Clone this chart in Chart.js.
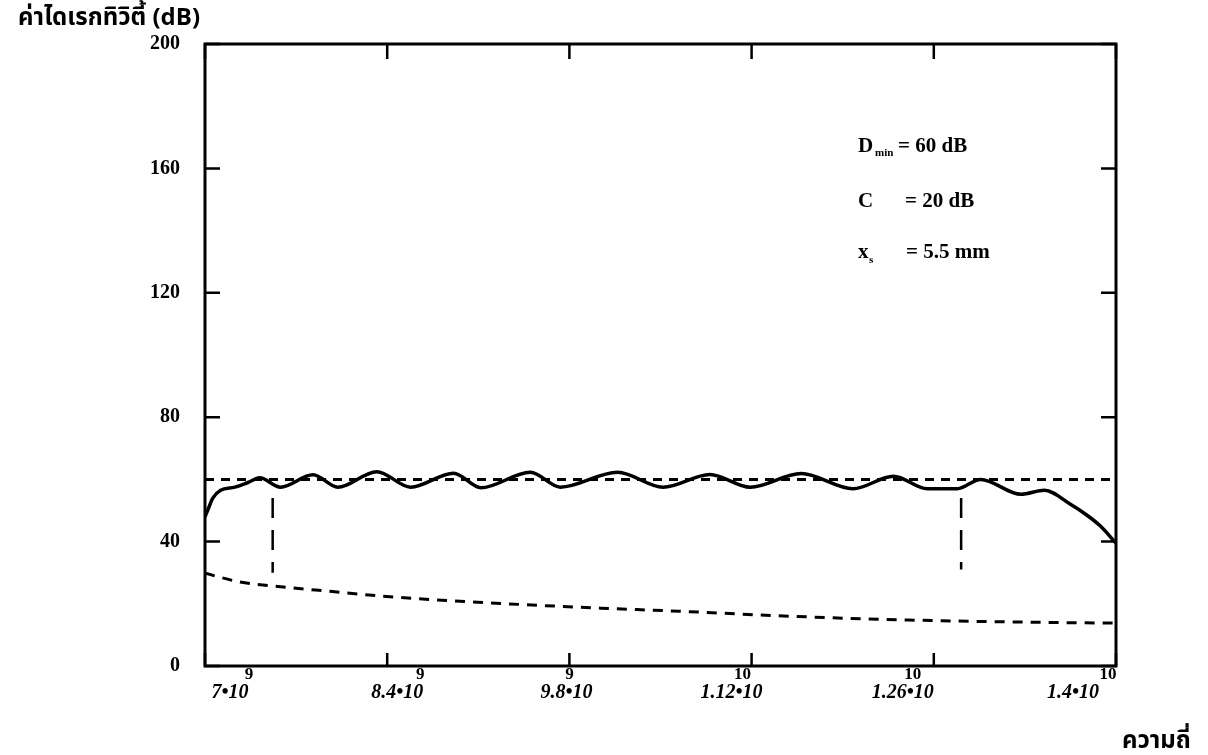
<!DOCTYPE html>
<html>
<head>
<meta charset="utf-8">
<script src="https://cdn.jsdelivr.net/npm/chart.js@4.4.0/dist/chart.umd.min.js"></script>
<style>
  html, body { margin: 0; padding: 0; background: #fff; }
  #wrap { width: 1208px; height: 755px; }
</style>
</head>
<body>
<div id="wrap"><canvas id="chart" width="1208" height="755"></canvas></div>
<script>
// Frequencies are in GHz, the axis labels show them in Hz
const freqTicks = [7, 8.4, 9.8, 11.2, 12.6, 14];
const tickMantissa = ['7•10', '8.4•10', '9.8•10', '1.12•10', '1.26•10', '1.4•10'];
const tickExponent = ['9', '9', '9', '10', '10', '10'];

// directivity (solid curve)
const directivityFreq = [7.00, 7.02, 7.06, 7.12, 7.23, 7.33, 7.42, 7.58, 7.83, 8.02, 8.32, 8.58,
    8.91, 9.12, 9.50, 9.73, 10.17, 10.52, 10.88, 11.19, 11.58, 11.98, 12.29, 12.55, 12.78, 12.96,
    13.27, 13.45, 13.65, 13.78, 13.88, 14.00];
const directivityDb = [48, 50, 54, 56.5, 57.5, 59, 60.5, 57.5, 61.5, 57.5, 62.5, 57.5,
    62, 57.3, 62.3, 57.5, 62.3, 57.5, 61.6, 57.5, 61.9, 57, 61, 57, 57, 60,
    55.2, 56.5, 52, 48.4, 45, 39.5];

// lower dashed curve
const lowerFreq = [7.00, 7.27, 7.58, 7.96, 8.35, 8.88, 9.42, 10.04, 10.65, 11.27, 11.96, 12.73, 13.50, 14.00];
const lowerDb = [29.8, 27, 25.5, 24, 22.5, 21, 19.8, 18.6, 17.6, 16.4, 15.3, 14.5, 14, 13.8];

// D_min reference line
const dminFreq = [7, 14];
const dminDb = [60, 60];

// band edge markers
const markerFreq = [7.52, 12.81];
const markerTop = [54, 54];
const markerBottom = [30, 31];

// label placement relative to tick pixel (scan layout)
const xLabelShift = [25, 10, -3, -20, -31, -43];
const xExpShift = [44, 33, 0, -9, -21, -8];

const SERIF = '"Liberation Serif", "DejaVu Serif", serif';
const THAI = '"Noto Sans Thai", "Noto Serif Thai", Loma, Garuda, "Tlwg Typo", "DejaVu Sans", sans-serif';

function pts(xs, ys) {
    return xs.map((v, i) => ({ x: v, y: ys[i] }));
}

const markerSets = markerFreq.map((f, i) => ({
    data: pts([f, f], [markerTop[i], markerBottom[i]]),
    borderColor: '#000',
    borderWidth: 2.5,
    borderDash: [20, 12],
    pointRadius: 0,
}));

/**
 * Frame, inward ticks and all free text
 */
const framePlugin = {
    id: 'frame',
    afterDatasetsDraw(chart) {
        const { ctx, chartArea: a, scales: { x, y } } = chart;
        ctx.save();
        ctx.strokeStyle = '#000';
        ctx.fillStyle = '#000';
        ctx.lineWidth = 3;
        ctx.strokeRect(a.left, a.top, a.right - a.left, a.bottom - a.top);

        // inward ticks on all four sides
        ctx.lineWidth = 2.5;
        ctx.beginPath();
        x.ticks.forEach(t => {
            const px = x.getPixelForValue(t.value);
            ctx.moveTo(px, a.bottom); ctx.lineTo(px, a.bottom - 13);
            ctx.moveTo(px, a.top); ctx.lineTo(px, a.top + 15);
        });
        y.ticks.forEach(t => {
            const py = y.getPixelForValue(t.value);
            ctx.moveTo(a.left, py); ctx.lineTo(a.left + 15, py);
            ctx.moveTo(a.right, py); ctx.lineTo(a.right - 15, py);
        });
        ctx.stroke();

        // x tick labels with raised exponent
        ctx.textBaseline = 'alphabetic';
        ctx.textAlign = 'center';
        freqTicks.forEach((v, i) => {
            const px = x.getPixelForValue(v);
            ctx.font = 'bold italic 20px ' + SERIF;
            ctx.fillText(tickMantissa[i], px + xLabelShift[i], a.bottom + 32);
            ctx.font = 'bold 17px ' + SERIF;
            ctx.fillText(tickExponent[i], px + xExpShift[i], a.bottom + 13);
        });

        // axis titles
        ctx.textAlign = 'left';
        ctx.font = 'bold 24px ' + THAI;
        ctx.fillText('ค่าไดเรกทิวิตี้ (dB)', 18, 25);
        ctx.fillText('ความถี่', 1122, 748);

        // parameter notes
        ctx.font = 'bold 21px ' + SERIF;
        ctx.fillText('D', 858, 152);
        ctx.fillText('= 60 dB', 898, 152);
        ctx.fillText('C', 858, 207);
        ctx.fillText('= 20 dB', 905, 207);
        ctx.fillText('x', 858, 258);
        ctx.fillText('= 5.5 mm', 906, 258);
        ctx.font = 'bold 11px ' + SERIF;
        ctx.fillText('min', 875, 156);
        ctx.fillText('s', 869, 263);
        ctx.restore();
    }
};

new Chart(document.getElementById('chart'), {
    type: 'line',
    data: {
        datasets: [
            {
                data: pts(directivityFreq, directivityDb),
                borderColor: '#000',
                borderWidth: 3.5,
                cubicInterpolationMode: 'monotone',
                pointRadius: 0,
            },
            {
                data: pts(dminFreq, dminDb),
                borderColor: '#000',
                borderWidth: 3,
                borderDash: [9, 7],
                pointRadius: 0,
            },
            {
                data: pts(lowerFreq, lowerDb),
                borderColor: '#000',
                borderWidth: 3,
                borderDash: [10, 8],
                cubicInterpolationMode: 'monotone',
                pointRadius: 0,
            },
            ...markerSets,
        ]
    },
    options: {
        responsive: false,
        animation: false,
        devicePixelRatio: 1,
        layout: { padding: { top: 44, right: 92, left: 0, bottom: 0 } },
        plugins: {
            legend: { display: false },
            tooltip: { enabled: false },
        },
        scales: {
            x: {
                type: 'linear',
                min: 7,
                max: 14,
                ticks: { display: false },
                grid: { display: false, drawTicks: false },
                border: { display: false },
                afterBuildTicks: scale => {
                    scale.ticks = freqTicks.map(v => ({ value: v }));
                },
                afterFit: scale => { scale.height = 89; },
            },
            y: {
                min: 0,
                max: 200,
                ticks: {
                    stepSize: 40,
                    padding: 25,
                    color: '#000',
                    font: { family: SERIF, size: 20, weight: 'bold' },
                },
                grid: { display: false, drawTicks: false },
                border: { display: false },
                afterFit: scale => { scale.width = 205; },
            },
        },
    },
    plugins: [framePlugin],
});
</script>
</body>
</html>
